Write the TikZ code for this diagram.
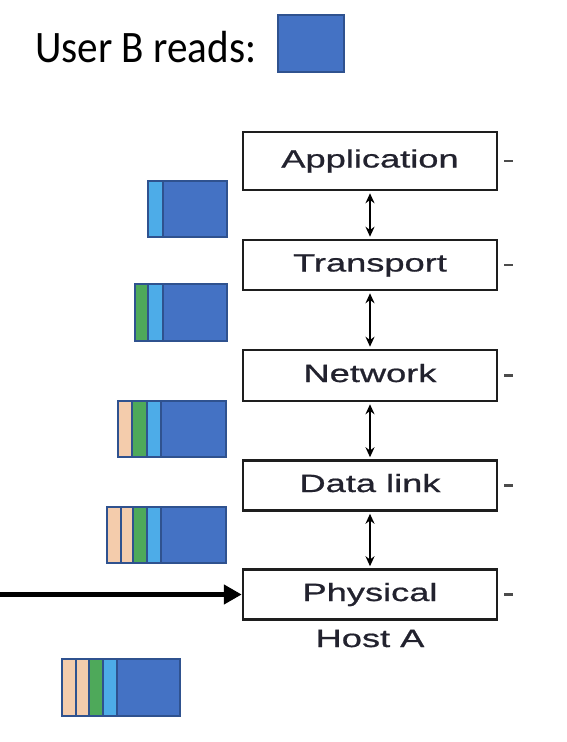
\documentclass[tikz,border=0pt]{standalone}
\usepackage{fontspec}
\setmainfont{Liberation Sans}
\newfontfamily\layerfont[FakeBold=0.7]{Liberation Sans}
\newfontfamily\calib{Carlito}
\usetikzlibrary{arrows.meta}
\definecolor{pdark}{HTML}{4472C4}
\definecolor{pedge}{HTML}{2F528F}
\definecolor{plight}{HTML}{4DACE8}
\definecolor{pgreen}{HTML}{4EA95A}
\definecolor{ppeach}{HTML}{F4CCAC}
\definecolor{boxline}{HTML}{1E1E1E}
\definecolor{labelink}{HTML}{22222E}
\tikzset{
 layer/.style={draw=boxline, line width=2.5pt, minimum width=254pt, minimum height=50pt, inner sep=0pt, text height=18pt, text depth=5pt, text=labelink, font=\layerfont\fontsize{25}{30}\selectfont},
 seg/.style={draw=pedge, line width=1.5pt},
 updown/.style={{Stealth[length=10pt,width=9pt]}-{Stealth[length=10pt,width=9pt]}, line width=2pt, shorten <=2pt, shorten >=2pt},
 sidetick/.style={draw=gray!60!black, line width=2.5pt},
 wire/.style={line width=5.5pt, -{Triangle[length=18pt,width=19pt]}},
}
\newcommand{\widetxt}[1]{\scalebox{1.45}[1]{#1}}
\begin{document}
\begin{tikzpicture}[x=1pt,y=-1pt]
\useasboundingbox (0,0) rectangle (566,742);
% title
\node[anchor=base west, inner sep=0pt, font=\calib\fontsize{45}{54}\selectfont] (title) at (35,62) {\scalebox{0.915}[1]{User B reads:}};
\draw[seg, fill=pdark] (278,15) rectangle (344,72);
% layers
\node[layer, minimum height=58pt] (app) at (370,161) {\widetxt{Application}};
\node[layer] (tra) at (370,265) {\widetxt{Transport}};
\node[layer, minimum height=51pt] (net) at (370,375.5) {\widetxt{Network}};
\node[layer] (dl) at (370,485.5) {\widetxt{Data link}};
\node[layer] (phy) at (370,594.5) {\widetxt{Physical}};
\node[anchor=base, inner sep=0pt, text=labelink, font=\layerfont\fontsize{25}{30}\selectfont] (host) at (370,647) {\widetxt{Host A}};
% vertical arrows
\draw[updown] (app.south) -- (tra.north);
\draw[updown] (tra.south) -- (net.north);
\draw[updown] (net.south) -- (dl.north);
\draw[updown] (dl.south) -- (phy.north);
% side ticks
\foreach \n in {app,tra,net,dl,phy}{
  \draw[sidetick] ([xshift=6pt]\n.east) -- ++(9,0);
}
% incoming wire
\coordinate (src) at (0,594.5);
\draw[wire] (src) -- (phy.west);
% packet 1
\draw[seg, fill=pdark] (163,181) rectangle (227,237);
\draw[seg, fill=plight] (148,181) rectangle (163,237);
% packet 2
\draw[seg, fill=pdark] (163,284) rectangle (227,341);
\draw[seg, fill=plight] (148,284) rectangle (163,341);
\draw[seg, fill=pgreen] (135,284) rectangle (148,341);
% packet 3
\draw[seg, fill=pdark] (161,401) rectangle (226,457);
\draw[seg, fill=plight] (147,401) rectangle (161,457);
\draw[seg, fill=pgreen] (132,401) rectangle (147,457);
\draw[seg, fill=ppeach] (118,401) rectangle (132,457);
% packet 4
\draw[seg, fill=pdark] (161,507) rectangle (226,563);
\draw[seg, fill=plight] (147,507) rectangle (161,563);
\draw[seg, fill=pgreen] (133,507) rectangle (147,563);
\draw[seg, fill=ppeach] (121,507) rectangle (133,563);
\draw[seg, fill=ppeach] (107,507) rectangle (121,563);
% packet 5
\draw[seg, fill=pdark] (117,659) rectangle (180,716);
\draw[seg, fill=plight] (103,659) rectangle (117,716);
\draw[seg, fill=pgreen] (89,659) rectangle (103,716);
\draw[seg, fill=ppeach] (76,659) rectangle (89,716);
\draw[seg, fill=ppeach] (62,659) rectangle (76,716);
\end{tikzpicture}
\end{document}
